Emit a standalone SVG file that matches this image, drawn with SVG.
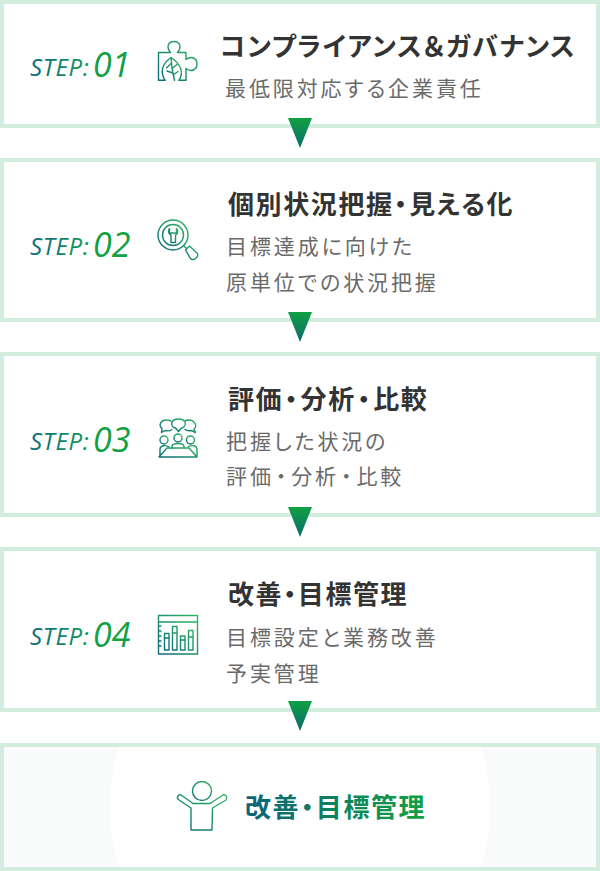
<svg xmlns="http://www.w3.org/2000/svg" width="600" height="871" viewBox="0 0 600 871">
<style>
.box{fill:#fff;stroke:#d2ecdd;stroke-width:4}
.jp{font-family:"Noto Sans CJK JP","Noto Sans",sans-serif;font-feature-settings:"palt"}
.t{font-size:26px;font-weight:700;fill:#333;letter-spacing:1.6px}
.s{font-size:21px;font-weight:400;fill:#6a6a6a;letter-spacing:2.900px}
.st{font-family:"Open Sans",sans-serif;font-style:italic;font-weight:400;font-size:24px;fill:url(#gs);letter-spacing:.7px}
.n{font-family:"Open Sans",sans-serif;font-style:italic;font-weight:400;font-size:34px;fill:#11a043}
.ic{fill:none;stroke:url(#gi);stroke-width:1.4;stroke-linejoin:round;stroke-linecap:round}
.ar{fill:url(#ga)}
</style>
<defs>
<linearGradient id="gs" x1="0" y1="0" x2="1" y2="0"><stop offset="0" stop-color="#0b6b7a"/><stop offset="1" stop-color="#119a58"/></linearGradient>
<linearGradient id="ga" x1="0" y1="0" x2="0" y2="1"><stop offset="0" stop-color="#11a043"/><stop offset="1" stop-color="#0b6b6e"/></linearGradient>
<linearGradient id="gi" x1="0" y1="1" x2="1" y2="0"><stop offset="0" stop-color="#0b6b7a"/><stop offset="1" stop-color="#2fb560"/></linearGradient>
<linearGradient id="gt" x1="0" y1="0" x2="1" y2="0"><stop offset="0" stop-color="#0b6478"/><stop offset="1" stop-color="#11a043"/></linearGradient>
</defs>
<g id="step1">
<rect class="box" x="2" y="2" width="596" height="124"/>
<text x="30" y="76" class="st">STEP:</text><text x="93" y="77" class="n">01</text>
<g class="ic"><path d="M165 80.300H158.500V52.500H170.500C166 47 168 41.500 174 41.500C180 41.500 182 47 177.500 52.500H186V59.500C191 55.500 197 58 197 64C197 70 191 72.500 186 68.500V80.300H179"/><path d="M165 80.300C160 72 162 64 171 57.500C181 64 184 73 179 80.300M171 57.500L172 68L174.500 80.300M171.500 63L166.500 68M172 68.500L177.500 64M172.800 73L167 71M173 75L178 71.500"/></g>
<text x="220" y="56" class="jp t">コンプライアンス＆ガバナンス</text>
<text x="225" y="96" class="jp s">最低限対応する企業責任</text>
</g>
<g id="step2">
<rect class="box" x="2" y="160" width="596" height="160"/>
<text x="30" y="255" class="st">STEP:</text><text x="93" y="257" class="n">02</text>
<g class="ic"><circle cx="173" cy="235" r="15"/><circle cx="173" cy="235" r="10.500"/><path d="M169.500 228.500C167.800 231 168.500 234 171 235V242.500H175.500V235C178 234 178.500 231 176.500 228.500V233H169.500Z"/><path d="M184 246L186 248M185.500 250L189.500 246L197 253C198.500 255 197.500 257 195.500 258.500C193.500 260 192 260 190.500 258.500Z"/></g>
<text x="228" y="214" class="jp t">個別状況把握<tspan dx=".5">・</tspan><tspan dx=".5">見える化</tspan></text>
<text x="226" y="254" class="jp s">目標達成に向けた</text>
<text x="226" y="290" class="jp s">原単位での状況把握</text>
</g>
<g id="step3">
<rect class="box" x="2" y="354" width="596" height="161"/>
<text x="30" y="450" class="st">STEP:</text><text x="93" y="452" class="n">03</text>
<g class="ic"><path d="M172 429.500C170 431 167 431 165 430.500L161.500 432.500L162 428.500C158 425 161 420 166.500 420C168 420 170 420.500 171 421"/><path d="M185 421C187 419.500 192 419.500 194 422C197 425 195.500 428 194 429L195.500 432.500L191.500 430.500C189 431 187 431 185 429.500"/><path d="M178.500 431.500L175.500 428C170 427 170 419 178.500 419C187 419 187 427 181.500 428Z"/><circle cx="178" cy="438" r="4"/><circle cx="164" cy="440" r="4"/><circle cx="190.500" cy="440" r="4"/><path d="M160 456V449C160 445.500 166 444.500 169 447M197 456V449C197 445.500 191 444.500 188 447M172 448V446.500C172 442.500 184 442.500 184 446.500V448"/><path d="M167 448H189L197 457H159Z"/></g>
<text x="228" y="409" class="jp t">評価<tspan dx="1.400">・</tspan><tspan dx="1.400">分析</tspan><tspan dx="1.400">・</tspan><tspan dx="1.400">比較</tspan></text>
<text x="226" y="449" class="jp s">把握した状況の</text>
<text x="226" y="484" class="jp s">評価<tspan dx="2">・</tspan><tspan dx="2">分析</tspan><tspan dx="2">・</tspan><tspan dx="2">比較</tspan></text>
</g>
<g id="step4">
<rect class="box" x="2" y="549" width="596" height="161"/>
<text x="30" y="645" class="st">STEP:</text><text x="93" y="647" class="n">04</text>
<g class="ic"><rect x="158.500" y="615.500" width="39" height="38.500"/><path d="M158.500 622H197.500M158.500 626H161M158.500 631H161M158.500 636H161M158.500 641H161M158.500 646H161"/><path d="M164.500 633.500H169V650H164.500ZM172.500 626.500H177V650H172.500ZM180.500 636H185V650H180.500ZM188.500 630.500H193V650H188.500Z"/><path d="M164.500 638H169M172.500 633H177M180.500 640H185M188.500 637H193"/><path d="M187 619H188M190.500 619H191.500M194 619H195"/></g>
<text x="228" y="604" class="jp t">改善・目標管理</text>
<text x="226" y="645" class="jp s">目標設定と業務改善</text>
<text x="226" y="681" class="jp s">予実管理</text>
</g>
<g id="goal">
<rect x="2" y="745" width="596" height="124" fill="#f8fbf9" stroke="#d2ecdd" stroke-width="4"/>
<path d="M119 747C107 785 107 829 119 867H481C493 829 493 785 481 747Z" fill="#fff"/>
<g class="ic"><circle cx="202" cy="791" r="9.500"/><path d="M191 830H212L212.500 808L226 800C228 798 226 794 223 795L210 803.500H193L181 795C178 794 176 798 179 800L191 808Z"/></g>
<text x="245" y="817" class="jp" font-size="26" font-weight="700" letter-spacing="1.600" fill="url(#gt)">改善<tspan dx=".5">・</tspan><tspan dx=".5">目標管理</tspan></text>
</g>
<g id="connectors">
<path class="ar" d="M288 118H312L300 148Z"/>
<path class="ar" d="M288 312H312L300 342Z"/>
<path class="ar" d="M288 507H312L300 537Z"/>
<path class="ar" d="M288 701H312L300 731Z"/>
</g>
</svg>
